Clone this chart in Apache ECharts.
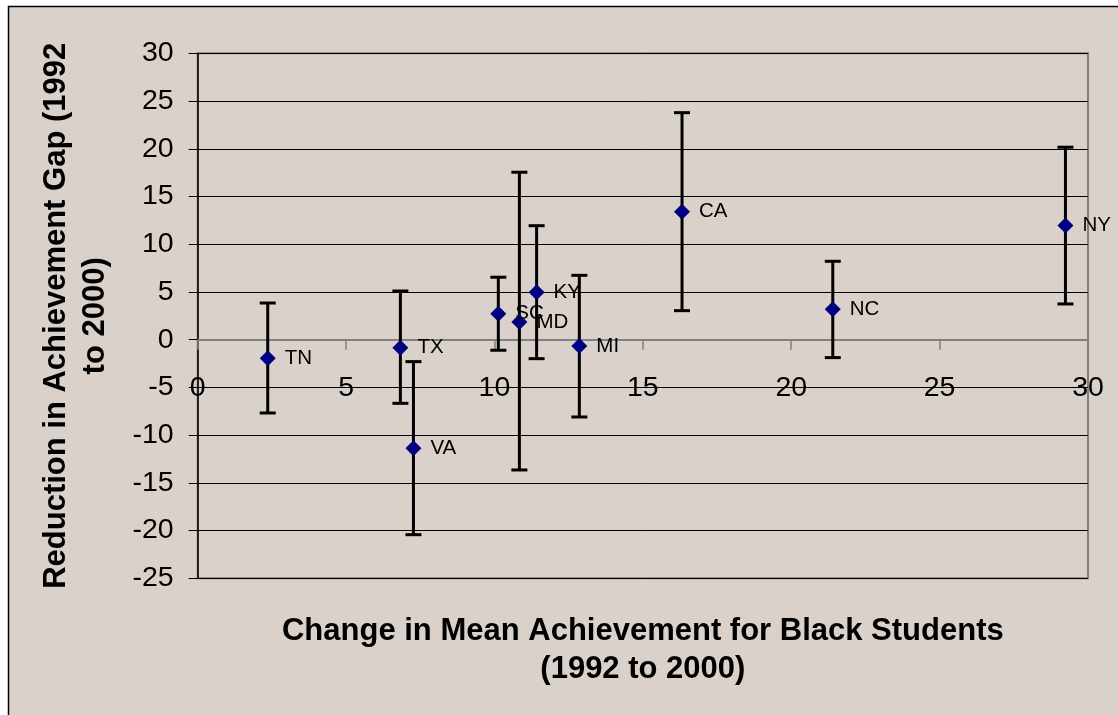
<!DOCTYPE html>
<html>
<head>
<meta charset="utf-8">
<script src="https://cdn.jsdelivr.net/npm/echarts@6/dist/echarts.min.js"></script>
<style>
html,body{margin:0;padding:0;background:#ffffff;}
#chart{width:1118px;height:715px;}
</style>
</head>
<body>
<div id="chart"></div>
<script>
var states = ['TN','TX','VA','SC','MD','KY','MI','CA','NC','NY'];
var xValues = [2.36, 6.83, 7.27, 10.13, 10.84, 11.42, 12.86, 16.32, 21.4, 29.24];
var yValues = [-1.95, -0.84, -11.38, 2.72, 1.85, 4.96, -0.66, 13.41, 3.18, 11.95];
var errLow = [-7.68, -6.67, -20.43, -1.11, -13.65, -1.99, -8.1, 3.04, -1.88, 3.74];
var errHigh = [3.84, 5.1, -2.3, 6.54, 17.54, 11.94, 6.74, 23.78, 8.21, 20.16];
var xTicks = [0, 5, 10, 15, 20, 25, 30];
var yTicks = [-25, -20, -15, -10, -5, 0, 5, 10, 15, 20, 25, 30];

var FONT = '"Liberation Sans", Arial, sans-serif';
var BG = '#d9d1ca';

var pointData = states.map(function (s, i) { return { name: s, value: [xValues[i], yValues[i]] }; });
var errData = states.map(function (s, i) { return [xValues[i], errLow[i], errHigh[i]]; });

var GRID_TOP = 53.3, GRID_BOTTOM_PX = 578.3;
var yMin = yTicks[0], yMax = yTicks[yTicks.length - 1];
// distance (px) from the grid bottom up to the zero line, derived from the axis range
var zeroOffset = (GRID_BOTTOM_PX - GRID_TOP) * (0 - yMin) / (yMax - yMin);

var chart = echarts.init(document.getElementById('chart'));
chart.setOption({
  backgroundColor: '#ffffff',
  animation: false,
  graphic: [{
    type: 'rect', z: -100, silent: true,
    shape: { x: 8.5, y: 6.5, width: 1200, height: 800 },
    style: { fill: BG, stroke: '#000000', lineWidth: 1.5 }
  }],
  grid: {
    left: 197.7, top: GRID_TOP, right: 30, bottom: 715 - GRID_BOTTOM_PX,
    containLabel: false, outerBoundsMode: 'none',
    show: true, backgroundColor: 'transparent', borderColor: '#808080', borderWidth: 2
  },
  xAxis: [{
    type: 'value', min: xTicks[0], max: xTicks[xTicks.length - 1], interval: 5,
    axisLine: { show: true, onZero: true, lineStyle: { color: '#808080', width: 2 } },
    axisTick: { show: true, length: 10, lineStyle: { color: '#808080', width: 1.5 } },
    axisLabel: { show: false },
    splitLine: { show: false },
    name: 'Change in Mean Achievement for Black Students\n(1992 to 2000)',
    nameLocation: 'middle', nameGap: 34,
    nameTextStyle: { fontFamily: FONT, fontSize: 31, fontWeight: 'bold', color: '#000', lineHeight: 38, verticalAlign: 'top' }
  }, {
    type: 'value', min: xTicks[0], max: xTicks[xTicks.length - 1], interval: 5,
    position: 'bottom', offset: -zeroOffset,
    axisLine: { show: false, onZero: false },
    axisTick: { show: false },
    axisLabel: { fontFamily: FONT, fontSize: 28.5, color: '#000', margin: 34 },
    splitLine: { show: false }
  }],
  yAxis: {
    type: 'value', min: yMin, max: yMax, interval: 5,
    axisLine: { show: true, onZero: false, lineStyle: { color: '#000', width: 1.5 } },
    axisTick: { show: true, length: 9, lineStyle: { color: '#000', width: 1 } },
    axisLabel: { fontFamily: FONT, fontSize: 28.5, color: '#000', margin: 24 },
    splitLine: { show: true, lineStyle: { color: '#000', width: 1 } },
    name: 'Reduction in Achievement Gap (1992\nto 2000)',
    nameLocation: 'middle', nameGap: 83, nameRotate: 90,
    nameTextStyle: { fontFamily: FONT, fontSize: 31, fontWeight: 'bold', color: '#000', lineHeight: 39 }
  },
  series: [{
    type: 'custom',
    z: 3,
    xAxisIndex: 0,
    data: errData,
    encode: { x: 0, y: [1, 2] },
    renderItem: function (params, api) {
      var x = api.value(0);
      var lo = api.coord([x, api.value(1)]);
      var hi = api.coord([x, api.value(2)]);
      var cap = 8;
      var st = { stroke: '#000', lineWidth: 3 };
      return {
        type: 'group',
        children: [
          { type: 'line', shape: { x1: lo[0], y1: lo[1], x2: hi[0], y2: hi[1] }, style: st },
          { type: 'line', shape: { x1: lo[0] - cap, y1: lo[1], x2: lo[0] + cap, y2: lo[1] }, style: st },
          { type: 'line', shape: { x1: hi[0] - cap, y1: hi[1], x2: hi[0] + cap, y2: hi[1] }, style: st }
        ]
      };
    }
  }, {
    type: 'scatter',
    z: 4,
    xAxisIndex: 0,
    symbol: 'diamond',
    symbolSize: 16,
    itemStyle: { color: '#000080', opacity: 1 },
    data: pointData,
    label: {
      show: true, position: 'right', distance: 9,
      formatter: function (p) { return p.name; },
      fontFamily: FONT, fontSize: 20.5, color: '#000'
    }
  }]
});
</script>
</body>
</html>
